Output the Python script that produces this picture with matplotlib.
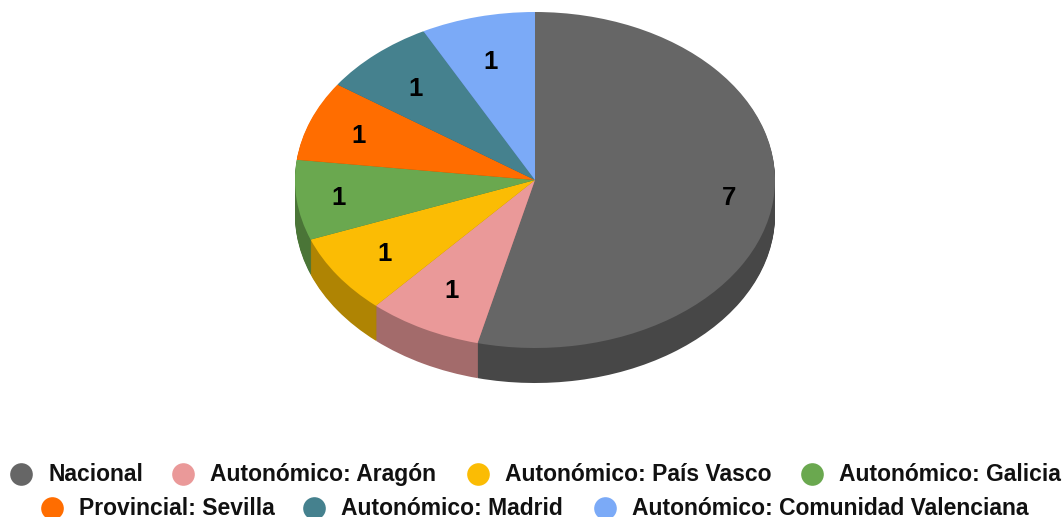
import matplotlib
matplotlib.use("Agg")
import matplotlib.pyplot as plt
from matplotlib.lines import Line2D
from matplotlib.transforms import IdentityTransform

categories = ["Nacional", "Autonómico: Aragón", "Autonómico: País Vasco", "Autonómico: Galicia",
              "Provincial: Sevilla", "Autonómico: Madrid", "Autonómico: Comunidad Valenciana"]
values = [7, 1, 1, 1, 1, 1, 1]
top_colors = ["#666666", "#EA9999", "#FBBC04", "#6AA84F", "#FF6D00", "#45818E", "#7BAAF7"]
side_colors = ["#474747", "#A36B6B", "#AF8403", "#4A7537", "#B24C00", "#305A63", "#5676AC"]

W, H = 1064, 517
CX, CY, RX, RY, DEPTH = 535, 180, 240, 168, 35
sq = RY / RX

plt.rcParams["font.family"] = ["Liberation Sans", "DejaVu Sans"]
fig = plt.figure(figsize=(W / 100, H / 100), dpi=100)
ax = fig.add_axes([0, 0, 1, 1])


def yd(py):
    return (H - py) / sq


for off in range(DEPTH, 0, -1):
    ax.pie(values, colors=side_colors, startangle=90, counterclock=False, radius=RX,
           center=(CX, yd(CY + off)), frame=True, wedgeprops=dict(linewidth=0))
ax.pie(values, colors=top_colors, startangle=90, counterclock=False, radius=RX,
       center=(CX, yd(CY)), frame=True, wedgeprops=dict(linewidth=0))
ax.set_xlim(0, W)
ax.set_ylim(0, H / sq)
ax.set_aspect(sq)
ax.axis("off")

label_px = [(729, 198), (452, 291), (385, 254), (339, 198), (359, 136), (416, 89), (491, 62)]
for v, (px, py) in zip(values, label_px):
    ax.text(px, H - py, str(v), transform=IdentityTransform(), ha="center", va="center",
            fontsize=18.5, fontweight="bold", color="black")


def legend_row(items, y_marker, y_base, xs):
    for i, x in zip(items, xs):
        ax.add_line(Line2D([x], [H - y_marker], transform=IdentityTransform(), marker="o", ms=16.3,
                           mfc=top_colors[i], mec="none", ls="none"))
        ax.text(x + 27, H - y_base, categories[i], transform=IdentityTransform(), ha="left", va="baseline",
                fontsize=16.45, fontweight="bold", color="#111111")


legend_row([0, 1, 2, 3], 474, 481, [21, 183, 478, 812])
legend_row([4, 5, 6], 508, 515, [52, 314, 605])
fig.savefig("out.png", dpi=100)
